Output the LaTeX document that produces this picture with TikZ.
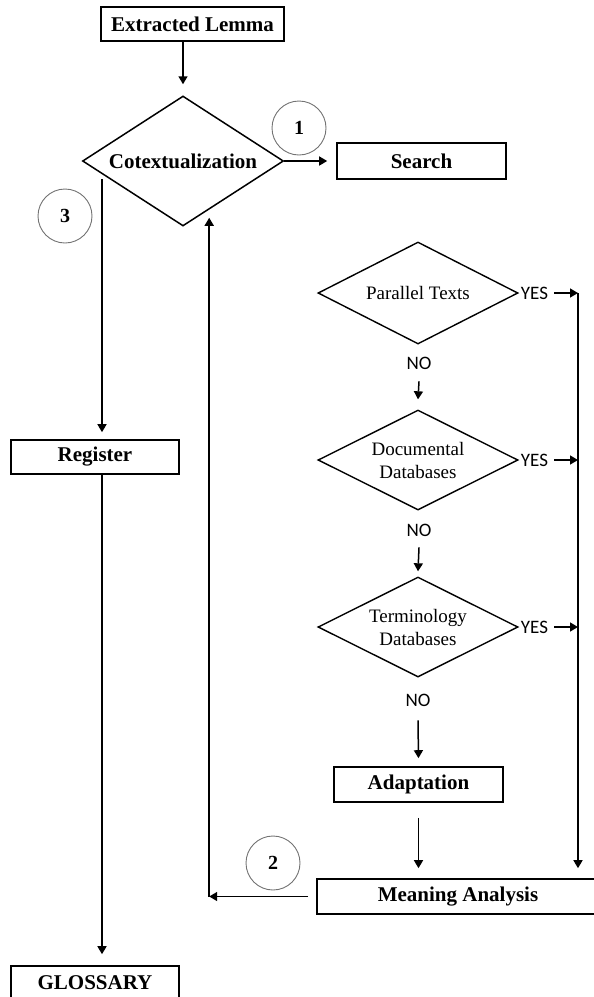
\documentclass[tikz,border=0pt]{standalone}
\usepackage{fontspec}
\setmainfont{Liberation Serif}
\newfontfamily\calibrifont{Carlito}
\usetikzlibrary{positioning, calc, arrows.meta, shapes.geometric}

\begin{document}
\begin{tikzpicture}[
  x=1pt, y=-1pt,
  >={Triangle[length=8pt,width=9pt]},
  box/.style={draw=black, line width=1.6pt, inner sep=0pt,
      minimum height=34pt, font=\fontsize{21}{24}\selectfont\bfseries},
  decision/.style={draw=black, line width=1.4pt, shape=diamond,
      inner sep=0pt, align=center, minimum width=200pt,
      minimum height=102pt, aspect=2, font=\fontsize{19}{23}\selectfont},
  yesno/.style={inner sep=1pt, font=\calibrifont\fontsize{19}{22}\selectfont},
  numring/.style={draw=black!55, line width=0.9pt, circle,
      minimum size=54pt, inner sep=0pt,
      font=\fontsize{20}{24}\selectfont\bfseries},
  link/.style={->, line width=1.5pt},
]
\useasboundingbox (0,0) rectangle (594,997);

% ============================================================================
% LEFT: lemma -> cotextualization -> register -> glossary
% ============================================================================
\node[box, minimum width=183pt] (lemma) at (192.5,24) {Extracted Lemma};
\node[decision, minimum width=201pt, minimum height=130pt, aspect=1.55,
      line width=1.5pt, font=\fontsize{21}{24}\selectfont\bfseries]
      (cotext) at (183,161) {Cotextualization};
\node[box, minimum width=169pt, minimum height=36pt] (search) at (421.5,161) {Search};

\node[numring] (cOne) at (299,128) {1};
\node[numring] (cThree) at (65,216) {3};

\node[box, minimum width=168pt] (register) at (95,457) {Register};
\node[box, minimum width=168pt] (glossary) at (95,983) {GLOSSARY};

\draw[link] (lemma.south -| cotext.north) -- ([yshift=11pt]cotext.north);
\draw[link] (cotext.east) -- ([xshift=-9pt]search.west);

% branch 3 leaves the lower-left edge of the diamond
\path ($(cotext.west)!0.2!(cotext.south)$) ++(0,5) coordinate (regFrom);
\coordinate (regTop) at ([yshift=7pt]register.north);
\draw[link] (regFrom) -- (regFrom |- regTop);
\draw[link] ([xshift=7pt]register.south) -- ([xshift=7pt,yshift=11pt]glossary.north);

% ============================================================================
% RIGHT: the three look-ups
% ============================================================================
\pgfmathsetmacro{\colX}{418}
\node[decision] (partxt) at (\colX,293) {Parallel Texts};
\node[decision, minimum height=100pt] (docdb) at (\colX,460) {Documental\\Databases};
\node[decision, minimum height=100pt] (termdb) at (\colX,627) {Terminology\\Databases};

\node[yesno] (noA) at (419,363) {NO};
\node[yesno] (noB) at (419,530) {NO};
\node[yesno] (noC) at (418,700) {NO};

\node[box, minimum width=169pt, minimum height=35pt] (adapt) at (418.5,784.5) {Adaptation};
\node[box, minimum width=282pt, minimum height=35pt] (meaning) at (458,896.5) {Meaning Analysis};
\node[numring] (cTwo) at (273,863) {2};

\coordinate (mTop) at ([yshift=10pt]meaning.north);
\draw[link] ([yshift=-11pt]noA.south) -- ([yshift=10pt]docdb.north);
\draw[link] ([yshift=-10pt]noB.south) -- ([yshift=5pt]termdb.north);
\draw[link] ([yshift=-13pt]noC.south) -- ([yshift=8pt]adapt.north);
\draw[link] ([yshift=-15pt]adapt.south) -- (adapt.south |- mTop);

% YES rail on the far right
\coordinate (rail) at (578,293);
\foreach \dn [count=\k] in {partxt, docdb, termdb} {
  \node[yesno, anchor=west] (yes\k) at ([xshift=1pt]\dn.east) {YES};
  \draw[link] ([xshift=5pt]yes\k.east) -- (yes\k.east -| rail);
}
\draw[link] (rail) -- (rail |- mTop);

% branch 2 goes back up to the diamond
\coordinate (loopCorner) at ($(meaning.west)+(-107,0)$);
\coordinate (cotTip) at ($(cotext.south)+(0,-9)$);
\draw[link] ([xshift=-8pt]meaning.west) -- (loopCorner);
\draw[link] (loopCorner) -- (loopCorner |- cotTip);

\end{tikzpicture}
\end{document}
